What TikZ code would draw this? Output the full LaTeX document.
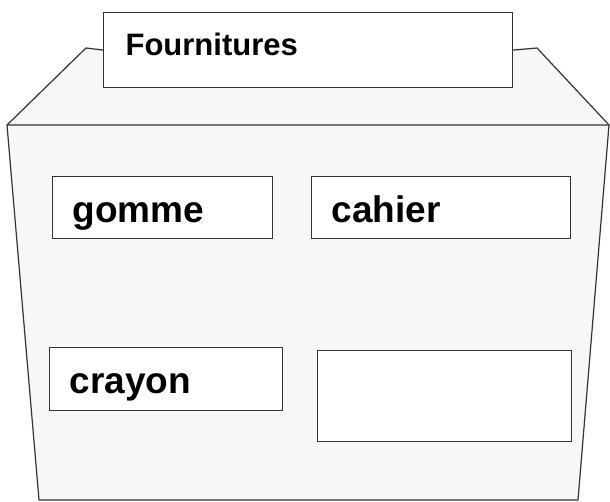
\documentclass[tikz,border=0pt]{standalone}
\usepackage{fontspec}
\setmainfont{Liberation Sans}
\tikzset{slot/.style={draw=black!80,fill=white,line width=1.2pt,
                      anchor=north west,inner xsep=20pt,align=left,
                      text width=#1,text height=29pt,text depth=0pt,
                      minimum height=62pt,
                      font=\fontsize{37}{40}\selectfont\bfseries}}
\tikzset{heading/.style={slot=#1,inner xsep=22pt,minimum height=75pt,
                         text height=22pt,text depth=11pt,
                         font=\fontsize{31}{34}\selectfont\bfseries}}
\tikzset{outline/.style={draw=black!80,line width=1.2pt,line join=round}}

\begin{document}
\begin{tikzpicture}[x=1pt,y=-1pt]
    \useasboundingbox (0,0) rectangle (610,502);
    \coordinate (lidL) at (86,48);
    \coordinate (lidR) at (537,48);
    \coordinate (topL) at (7,125);
    \coordinate (topR) at (609,125);
    \coordinate (botR) at (578,500);
    \coordinate (botL) at (39,500);
    % box
    \fill[black!3] (lidL) -- (lidR) -- (topR) -- (topL) -- cycle;
    \filldraw[outline,fill=black!3] (topL) -- (topR) -- (botR) -- (botL) -- cycle;
    % lid label
    \node[heading=365pt] (fourn) at (103,12) {Fournitures};
    \draw[outline] (fourn.west) -- (lidL) -- (topL);
    \draw[outline] (fourn.east) -- (lidR) -- (topR);
    % contents
    \node[slot=180pt] (gomme) at (52,176) {gomme};
    \node[slot=219pt] (cahier) at (311,176) {cahier};
    \node[slot=193pt,minimum height=63pt] (crayon) at (49,347) {crayon};
    \node[slot=214pt,minimum height=91pt] (vide) at (317,350) {};
\end{tikzpicture}
\end{document}
